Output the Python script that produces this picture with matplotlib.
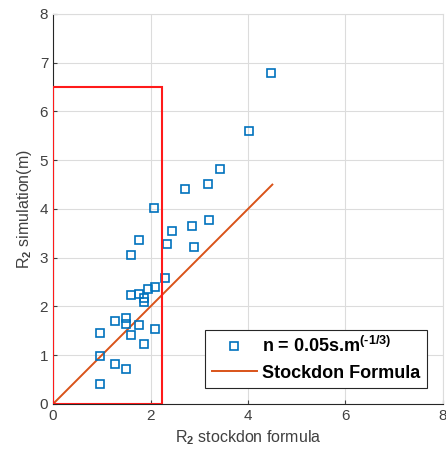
import matplotlib
matplotlib.use("Agg")
import matplotlib.pyplot as plt
from matplotlib.patches import Rectangle

plt.rcParams['font.family'] = ['Liberation Sans', 'DejaVu Sans']
plt.rcParams['mathtext.fontset'] = 'custom'
plt.rcParams['mathtext.rm'] = 'Liberation Sans:bold'
plt.rcParams['mathtext.it'] = 'Liberation Sans'
plt.rcParams['mathtext.bf'] = 'Liberation Sans:bold'

x_stockdon = [4.48, 4.02, 3.43, 2.71, 3.18, 2.08, 2.86, 3.20, 2.44, 1.77, 2.34, 2.90,
              1.60, 2.29, 2.10, 1.95, 1.60, 1.77, 1.87, 1.87, 1.28, 1.49, 1.49, 1.77,
              2.10, 0.97, 1.60, 1.87, 0.97, 1.28, 1.49, 0.97]
y_sim = [6.79, 5.60, 4.83, 4.41, 4.51, 4.02, 3.66, 3.77, 3.54, 3.36, 3.28, 3.21,
         3.05, 2.58, 2.40, 2.36, 2.24, 2.25, 2.18, 2.09, 1.71, 1.77, 1.64, 1.62,
         1.53, 1.45, 1.42, 1.22, 0.99, 0.82, 0.72, 0.40]
line_x = [0, 4.5]
line_y = [0, 4.5]
rect_x, rect_y, rect_w, rect_h = 0, 0, 2.24, 6.51
ticks = [0, 2, 4, 6, 8]
yticks = [0, 1, 2, 3, 4, 5, 6, 7, 8]

fig = plt.figure(figsize=(4.46, 4.59), dpi=100)
ax = fig.add_axes([0.119, 0.120, 0.874, 0.8495])

ax.plot(x_stockdon, y_sim, 's', ms=6, mfc='none', mec='#0072BD', mew=1.2,
        label=r'n = 0.05s.m$^{\text{(-1/3)}}$', zorder=3)
ax.plot(line_x, line_y, '-', color='#D95319', lw=1.4, label='Stockdon Formula', zorder=2)
ax.add_patch(Rectangle((rect_x, rect_y), rect_w, rect_h, fill=False, ec='#FF1A1A', lw=1.5, zorder=4))

ax.set_xlim(0, 8)
ax.set_ylim(0, 8)
ax.set_xticks(ticks)
ax.set_yticks(yticks)
ax.grid(True, color='#DCDCDC', lw=0.8)
ax.set_axisbelow(True)
for s in ['top', 'right']:
    ax.spines[s].set_color('#DCDCDC')
for s in ['left', 'bottom']:
    ax.spines[s].set_color('#262626')
    ax.spines[s].set_linewidth(0.8)
ax.tick_params(direction='in', length=3, labelsize=11, colors='#404040',
               top=False, right=False)
ax.set_xlabel(r'R$_{\mathit{2}}$ stockdon formula', fontsize=11.5, color='#404040')
ax.set_ylabel(r'R$_{\mathit{2}}$ simulation(m)', fontsize=11.5, color='#404040')

leg = ax.legend(loc='lower right', bbox_to_anchor=(0.959, 0.041), borderaxespad=0,
                prop={'weight': 'bold', 'size': 13},
                fancybox=False, edgecolor='#262626', framealpha=1, borderpad=0.35,
                handlelength=2.5, handletextpad=0.3, labelspacing=0.45)
leg.get_frame().set_linewidth(0.8)

fig.savefig('out.png', dpi=100)
